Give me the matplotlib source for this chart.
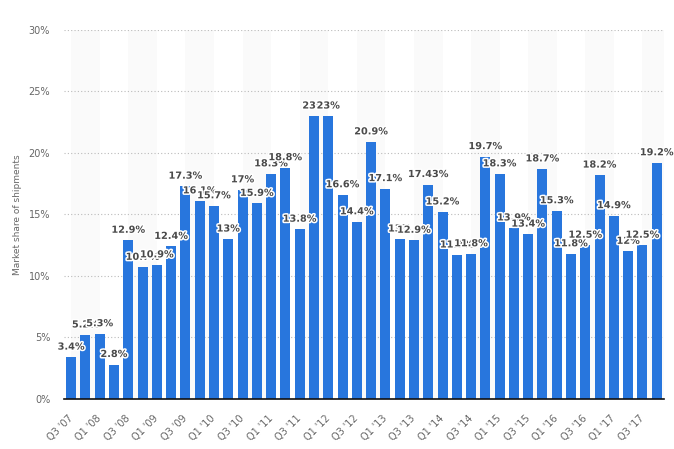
import numpy as np
import matplotlib
matplotlib.use('Agg')
import matplotlib.pyplot as plt
import matplotlib.patheffects as pe

# quarters from Q3 '07 to Q4 '17
quarters = ["Q3 '07", "Q4 '07",
            "Q1 '08", "Q2 '08", "Q3 '08", "Q4 '08",
            "Q1 '09", "Q2 '09", "Q3 '09", "Q4 '09",
            "Q1 '10", "Q2 '10", "Q3 '10", "Q4 '10",
            "Q1 '11", "Q2 '11", "Q3 '11", "Q4 '11",
            "Q1 '12", "Q2 '12", "Q3 '12", "Q4 '12",
            "Q1 '13", "Q2 '13", "Q3 '13", "Q4 '13",
            "Q1 '14", "Q2 '14", "Q3 '14", "Q4 '14",
            "Q1 '15", "Q2 '15", "Q3 '15", "Q4 '15",
            "Q1 '16", "Q2 '16", "Q3 '16", "Q4 '16",
            "Q1 '17", "Q2 '17", "Q3 '17", "Q4 '17"]

share = [3.4, 5.2, 5.3, 2.8, 12.9, 10.7, 10.9, 12.4, 17.3, 16.1,
         15.7, 13, 17, 15.9, 18.3, 18.8, 13.8, 23, 23, 16.6,
         14.4, 20.9, 17.1, 13, 12.9, 17.43, 15.2, 11.7, 11.8, 19.7,
         18.3, 13.9, 13.4, 18.7, 15.3, 11.8, 12.5, 18.2, 14.9, 12,
         12.5, 19.2]

yticks = [0, 5, 10, 15, 20, 25, 30]

barColor = '#2876dd'
textGray = '#666666'

fig = plt.figure(figsize=(6.74, 4.49), dpi=100)
ax = fig.add_axes([0.095, 0.1114, 0.89, 0.8218])

x = np.arange(len(share))

# alternating light bands between labelled categories
for start in range(0, len(share), 4):
    ax.axvspan(start, min(start + 2, len(share) - 0.5), color='#fafafa', zorder=0, lw=0)

ax.bar(x, share, width=0.7, color=barColor, zorder=3)

# data labels
for xi, v in zip(x, share):
    label = f'{v:g}%'
    ax.annotate(label, (xi, v), xytext=(0, 4), textcoords='offset points',
                ha='center', va='bottom', fontsize=7, fontweight='bold',
                color='#4a4a4a', zorder=5,
                path_effects=[pe.withStroke(linewidth=2.2, foreground='white')])

ax.set_xlim(-0.5, len(share) - 0.5)
ax.set_ylim(0, 30)
ax.set_yticks(yticks)
ax.set_yticklabels([f'{t}%' for t in yticks])
ax.yaxis.grid(True, linestyle=(0, (1, 2)), color='#bbbbbb', linewidth=0.8, zorder=1)
ax.set_axisbelow(True)

ax.set_xticks(x[::2])
ax.set_xticklabels(quarters[::2], rotation=45, ha='right', va='center',
                   rotation_mode='anchor')

for s in ['top', 'right', 'left']:
    ax.spines[s].set_visible(False)
ax.spines['bottom'].set_color('#111111')
ax.spines['bottom'].set_linewidth(1.2)
ax.spines['bottom'].set_zorder(6)

ax.tick_params(axis='both', length=0, labelsize=7, labelcolor=textGray)
ax.tick_params(axis='y', pad=10)
ax.tick_params(axis='x', pad=13)

ax.set_ylabel('Market share of shipments', fontsize=6.5, color=textGray, labelpad=5)

fig.savefig('out.png', dpi=100)
